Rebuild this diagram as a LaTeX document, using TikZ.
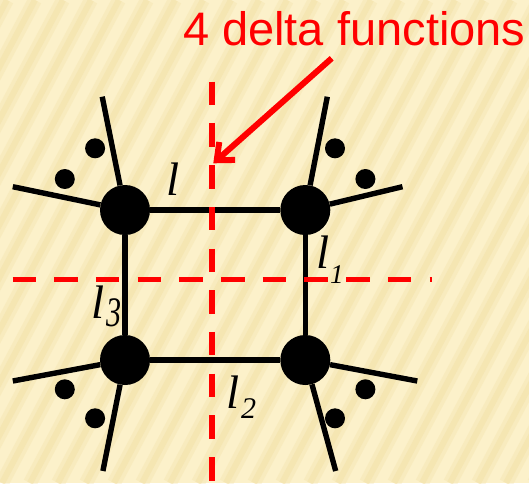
\documentclass[tikz,border=0pt]{standalone}
\usepackage{graphicx}
\usepackage{fontspec}
\setmainfont{Liberation Serif}
\newfontfamily\labelsans{Liberation Sans}
\usetikzlibrary{arrows.meta}
\definecolor{bgcol}{RGB}{252,241,202}
\definecolor{stripecol}{RGB}{242,224,165}
\definecolor{cutred}{RGB}{255,0,0}
\begin{document}
\begin{tikzpicture}[x=1pt,y=-1pt,
  vertex/.style={circle,fill=black,inner sep=0pt,minimum size=50pt},
  blob/.style={circle,fill=black,inner sep=0pt,minimum size=20pt},
  edge/.style={line width=5.4pt},
  cut/.style={draw=cutred,line width=5.6pt,dash pattern=on 23.5pt off 18.2pt},
  lab/.style={inner sep=0pt,anchor=base west,font=\fontsize{47}{47}\selectfont\itshape},
  sublab/.style={inner sep=0pt,anchor=base west,font=\fontsize{#1}{#1}\selectfont\itshape},
  sublab/.default=30,
  title/.style={inner sep=0pt,anchor=base,text=cutred,font=\labelsans\fontsize{47}{47}\selectfont}]
% background
\fill[bgcol] (0,0) rectangle (529,483);
\begin{scope}
  \clip (0,0) rectangle (529,483);
  \foreach \k in {-10,...,20} {
    \draw[stripecol,line width=14pt,opacity=0.3] ({\k*28+2},483) -- ({\k*28+259},0);
    \draw[stripecol,line width=6pt,opacity=0.45] ({\k*28+2},483) -- ({\k*28+259},0);
  }
\end{scope}
\useasboundingbox (0,0) rectangle (529,483);

% vertices
\node[vertex] (v1) at (125,210) {};
\node[vertex] (v2) at (305.3,210) {};
\node[vertex] (v3) at (305.3,360) {};
\node[vertex] (v4) at (125,360) {};

% external legs
\coordinate (a1) at (102.2,96.7);
\coordinate (b1) at (12.8,186.7);
\coordinate (a2) at (327.3,96.7);
\coordinate (b2) at (402.5,186.7);
\coordinate (a3) at (417.3,381);
\coordinate (b3) at (335.7,471);
\coordinate (a4) at (12.8,381);
\coordinate (b4) at (102.9,471);
\draw[edge] (v1) -- (a1);
\draw[edge] (v1) -- (b1);
\draw[edge] (v2) -- (a2);
\draw[edge] (v2) -- (b2);
\draw[edge] (v3) -- (a3);
\draw[edge] (v3) -- (b3);
\draw[edge] (v4) -- (a4);
\draw[edge] (v4) -- (b4);

% loop
\draw[edge] (v1) -- (v2);
\draw[edge] (v2) -- (v3);
\draw[edge] (v3) -- (v4);
\draw[edge] (v4) -- (v1);

% dots
\node[blob] (d1) at (95.1,148.3) {};
\node[blob] (d2) at (64.8,179) {};
\node[blob] (d3) at (335,148.3) {};
\node[blob] (d4) at (365.4,179) {};
\node[blob] (d5) at (64.8,389.3) {};
\node[blob] (d6) at (95.1,418.3) {};
\node[blob] (d7) at (365.4,389.3) {};
\node[blob] (d8) at (335,418.3) {};

% cuts
\coordinate (vt) at (211.9,81.7);
\coordinate (vb) at (211.9,483);
\coordinate (hl) at (12.5,279.3);
\coordinate (hr) at (432,279.3);
\draw[cut] (vt) -- (vb);
\draw[cut] (hl) -- (hr);

% title and arrow
\node[title] (ttl) at (354.2,45) {4 delta functions};
\coordinate (as) at (331.7,58.3);
\coordinate (at) at (213.3,163.3);
\draw[draw=cutred,line width=6pt,-{Straight Barb[length=14pt,width=24pt]}] (as) -- (at);

% labels
\node[lab] (L) at (166,195) {l};
\node[lab] (L1) at (316,268.3) {l};
\node[sublab=27] (S1) at (330,283.3) {1};
\node[lab] (L3) at (91.5,318.3) {l};
\node[sublab] (S3) at (106,326.7) {\scalebox{1}[1.4]{3}};
\node[lab] (L2) at (226.5,408.3) {l};
\node[sublab] (S2) at (241,418.3) {2};
\end{tikzpicture}
\end{document}
